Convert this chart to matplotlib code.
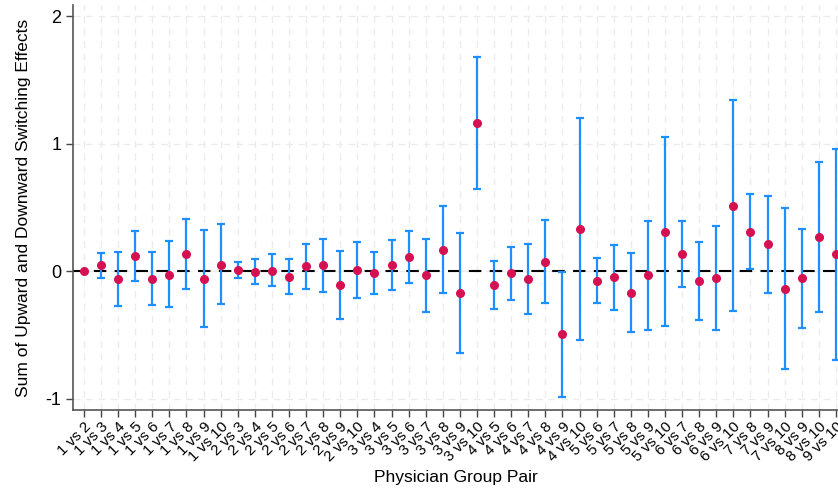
"""
Sum of upward and downward switching effects by physician group pair.
"""

import matplotlib.pyplot as plt
import numpy as np

plt.rcParams['font.family'] = ['Liberation Sans', 'DejaVu Sans']

# physician group pairs, in order
pairs = [
    "1 vs 2", "1 vs 3", "1 vs 4", "1 vs 5", "1 vs 6", "1 vs 7", "1 vs 8", "1 vs 9", "1 vs 10",
    "2 vs 3", "2 vs 4", "2 vs 5", "2 vs 6", "2 vs 7", "2 vs 8", "2 vs 9", "2 vs 10",
    "3 vs 4", "3 vs 5", "3 vs 6", "3 vs 7", "3 vs 8", "3 vs 9", "3 vs 10",
    "4 vs 5", "4 vs 6", "4 vs 7", "4 vs 8", "4 vs 9", "4 vs 10",
    "5 vs 6", "5 vs 7", "5 vs 8", "5 vs 9", "5 vs 10",
    "6 vs 7", "6 vs 8", "6 vs 9", "6 vs 10",
    "7 vs 8", "7 vs 9", "7 vs 10",
    "8 vs 9", "8 vs 10",
    "9 vs 10",
]

# point estimates
estimate = [
    0.000, 0.045, -0.065, 0.118, -0.060, -0.029, 0.134, -0.065, 0.052,
    0.008, -0.005, 0.005, -0.047, 0.037, 0.047, -0.107, 0.008,
    -0.016, 0.047, 0.110, -0.034, 0.168, -0.173, 1.165,
    -0.107, -0.018, -0.063, 0.071, -0.495, 0.330,
    -0.079, -0.047, -0.168, -0.034, 0.309,
    0.131, -0.079, -0.055, 0.513,
    0.309, 0.210, -0.139,
    -0.057, 0.265,
    0.131,
]

# 95% confidence interval bounds
ci_low = [
    0.000, -0.050, -0.275, -0.076, -0.265, -0.285, -0.139, -0.442, -0.257,
    -0.055, -0.102, -0.118, -0.181, -0.139, -0.162, -0.374, -0.210,
    -0.181, -0.149, -0.094, -0.320, -0.173, -0.639, 0.647,
    -0.296, -0.225, -0.335, -0.254, -0.987, -0.542,
    -0.254, -0.304, -0.477, -0.461, -0.430,
    -0.126, -0.385, -0.463, -0.314,
    0.013, -0.170, -0.770,
    -0.445, -0.322,
    -0.699,
]
ci_high = [
    0.000, 0.139, 0.152, 0.314, 0.152, 0.233, 0.411, 0.320, 0.367,
    0.073, 0.097, 0.131, 0.092, 0.215, 0.254, 0.162, 0.228,
    0.152, 0.246, 0.317, 0.254, 0.511, 0.296, 1.683,
    0.081, 0.189, 0.212, 0.398, -0.003, 1.204,
    0.100, 0.207, 0.141, 0.390, 1.055,
    0.395, 0.230, 0.356, 1.346,
    0.605, 0.592, 0.495,
    0.333, 0.854,
    0.961,
]

x = np.arange(1, len(pairs) + 1)
est = np.array(estimate)
lo = np.array(ci_low)
hi = np.array(ci_high)
has_ci = hi > lo

fig = plt.figure(figsize=(8.38, 4.91), dpi=100)
ax = fig.add_axes([0.0871, 0.165, 0.9129, 0.825])

# light dashed grid behind everything
ax.set_axisbelow(True)
ax.grid(True, color='#ececec', linestyle=(0, (5, 4)), linewidth=1.0)

ax.axhline(0, color='black', linestyle=(0, (6, 4)), linewidth=1.5, zorder=2)

ax.errorbar(x[has_ci], est[has_ci],
            yerr=[est[has_ci] - lo[has_ci], hi[has_ci] - est[has_ci]],
            fmt='none', ecolor='#1E8FFF', elinewidth=1.6, capsize=3,
            capthick=1.6, zorder=3, clip_on=False)
ax.plot(x, est, 'o', color='#D51152', markersize=5.5, zorder=4, clip_on=False)

ax.set_xlim(0.36, 45.12)
ax.set_ylim(-1.09, 2.09)
ax.set_yticks([-1, 0, 1, 2])
ax.set_yticklabels(['-1', '0', '1', '2'], fontsize=13)
ax.set_xticks(x)
ax.set_xticklabels(pairs, rotation=45, ha='right', rotation_mode='anchor',
                   fontsize=11)

ax.tick_params(axis='both', color='#444444', length=5, width=1)
ax.tick_params(axis='x', pad=2)

for side in ['top', 'right']:
    ax.spines[side].set_visible(False)
for side in ['left', 'bottom']:
    ax.spines[side].set_color('#555555')
    ax.spines[side].set_linewidth(1.2)

ax.set_xlabel('Physician Group Pair', fontsize=12.5, labelpad=4)
ax.set_ylabel('Sum of Upward and Downward Switching Effects', fontsize=12.5,
              labelpad=10)

plt.savefig('out.png', dpi=100)
